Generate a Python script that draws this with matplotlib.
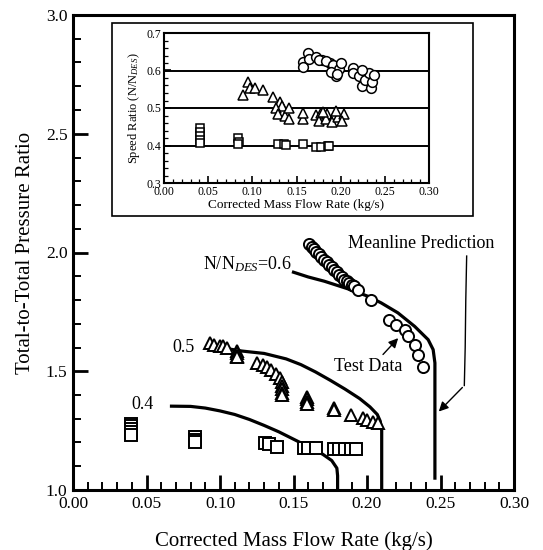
import matplotlib
matplotlib.use("Agg")
import matplotlib.pyplot as plt
from matplotlib.ticker import MultipleLocator, FormatStrFormatter
from matplotlib.patches import Rectangle

plt.rcParams['font.family'] = ['Liberation Serif', 'DejaVu Serif']
plt.rcParams['mathtext.fontset'] = 'custom'
plt.rcParams['mathtext.rm'] = 'Liberation Serif'
plt.rcParams['mathtext.it'] = 'Liberation Serif:italic'

# ---------------- main plot data ----------------
# Meanline prediction curves
line06_x = [0.150, 0.160, 0.171, 0.187, 0.2005, 0.2096, 0.221, 0.2324, 0.2416, 0.245, 0.2462, 0.2462]
line06_y = [1.917, 1.897, 1.879, 1.847, 1.816, 1.788, 1.746, 1.689, 1.633, 1.591, 1.535, 1.05]
line05_x = [0.094, 0.105, 0.115, 0.130, 0.145, 0.155, 0.165, 0.175, 0.185, 0.195, 0.202, 0.207, 0.209, 0.210, 0.210]
line05_y = [1.600, 1.595, 1.585, 1.575, 1.552, 1.528, 1.497, 1.462, 1.425, 1.385, 1.350, 1.318, 1.290, 1.250, 1.000]
line04_x = [0.067, 0.080, 0.090, 0.100, 0.110, 0.120, 0.130, 0.140, 0.150, 0.160, 0.170, 0.176, 0.1795, 0.180, 0.180]
line04_y = [1.353, 1.352, 1.345, 1.333, 1.318, 1.297, 1.272, 1.245, 1.214, 1.183, 1.150, 1.124, 1.092, 1.060, 1.000]

# Test data, N/Ndes = 0.6 (circles)
circ_x = [0.1605, 0.1625, 0.1639, 0.1656, 0.1673, 0.1690, 0.1708, 0.1725, 0.1742, 0.1759,
          0.1776, 0.1793, 0.1810, 0.1828, 0.1845, 0.1862, 0.1879, 0.1896, 0.1913, 0.1936,
          0.2027, 0.2153, 0.2199, 0.2256, 0.2279, 0.2324, 0.2347, 0.2381]
circ_y = [2.034, 2.024, 2.013, 2.003, 1.992, 1.981, 1.970, 1.960, 1.949, 1.938,
          1.928, 1.917, 1.907, 1.896, 1.886, 1.879, 1.872, 1.865, 1.858, 1.844,
          1.802, 1.717, 1.696, 1.675, 1.647, 1.612, 1.570, 1.520]

# Test data, N/Ndes = 0.5 (triangles)
tri_x = [0.0932, 0.0960, 0.1000, 0.1023, 0.1050, 0.1114, 0.1114, 0.1114, 0.1114,
         0.1251, 0.1290, 0.1320, 0.1350, 0.1380, 0.1411, 0.1420, 0.1420, 0.1420, 0.1422, 0.1422,
         0.1594, 0.1594, 0.1594, 0.1594, 0.1776, 0.1776, 0.1890, 0.1970, 0.2000, 0.2039, 0.2073]
tri_y = [1.619, 1.612, 1.608, 1.605, 1.598, 1.585, 1.575, 1.565, 1.558,
         1.535, 1.528, 1.520, 1.505, 1.490, 1.471, 1.455, 1.440, 1.425, 1.410, 1.400,
         1.392, 1.382, 1.372, 1.362, 1.345, 1.335, 1.316, 1.302, 1.295, 1.288, 1.281]

# Test data, N/Ndes = 0.4 (squares)
sq_x = [0.0395, 0.0395, 0.0395, 0.0395, 0.0395, 0.0829, 0.0829, 0.0829,
        0.1308, 0.1330, 0.1388, 0.1570, 0.1600, 0.1650, 0.1776, 0.1810, 0.1850, 0.1890, 0.1925]
sq_y = [1.280, 1.268, 1.255, 1.243, 1.232, 1.225, 1.212, 1.202,
        1.197, 1.195, 1.183, 1.178, 1.178, 1.178, 1.172, 1.172, 1.172, 1.172, 1.172]

# ---------------- inset data (speed ratio) ----------------
isq_x = [0.0406, 0.0406, 0.0406, 0.0406, 0.0406, 0.0838, 0.0845, 0.0840,
         0.1289, 0.1360, 0.1380, 0.1570, 0.1720, 0.1780, 0.1860, 0.1870]
isq_y = [0.446, 0.436, 0.426, 0.416, 0.408, 0.419, 0.410, 0.405,
         0.404, 0.404, 0.401, 0.405, 0.396, 0.396, 0.398, 0.400]
itri_x = [0.0894, 0.0950, 0.0977, 0.1030, 0.1120, 0.1230, 0.1308, 0.1340, 0.1270, 0.1290,
          0.1375, 0.1410, 0.1410, 0.1570, 0.1570, 0.1720, 0.1780, 0.1850, 0.1920,
          0.1760, 0.1830, 0.1900, 0.1970, 0.2040, 0.1800, 0.1950, 0.2010]
itri_y = [0.535, 0.570, 0.553, 0.553, 0.548, 0.530, 0.517, 0.505, 0.500, 0.485,
          0.480, 0.470, 0.500, 0.472, 0.486, 0.481, 0.488, 0.483, 0.480,
          0.465, 0.470, 0.462, 0.475, 0.485, 0.490, 0.492, 0.465]
icirc_x = [0.157, 0.157, 0.1627, 0.164, 0.172, 0.1785, 0.1877, 0.1935, 0.195,
           0.176, 0.183, 0.191, 0.198, 0.189, 0.196, 0.200, 0.2134, 0.2134, 0.221,
           0.2247, 0.228, 0.232, 0.234, 0.2247, 0.236, 0.238]
icirc_y = [0.624, 0.610, 0.646, 0.630, 0.635, 0.627, 0.620, 0.604, 0.586,
           0.629, 0.625, 0.616, 0.604, 0.595, 0.590, 0.621, 0.606, 0.593, 0.585,
           0.558, 0.576, 0.594, 0.553, 0.602, 0.570, 0.588]
inset_grid = [0.4, 0.5, 0.6]

W, H = 543, 550
fig = plt.figure(figsize=(W / 100, H / 100), dpi=100)

# ---------------- main axes ----------------
ax = fig.add_axes([73 / W, 1 - 490 / H, (514 - 73) / W, (490 - 15) / H])
ax.set_xlim(0, 0.30)
ax.set_ylim(1.0, 3.0)
for s in ax.spines.values():
    s.set_linewidth(2.2)

lw = 2.3
ax.plot(line06_x, line06_y, color='black', lw=lw, zorder=2)
ax.plot(line05_x, line05_y, color='black', lw=lw, zorder=2)
ax.plot(line04_x, line04_y, color='black', lw=lw, zorder=2)

ms = 8
mew = 1.4
ax.plot(sq_x, sq_y, 's', ms=ms, mfc='white', mec='black', mew=mew, zorder=3)
ax.plot(tri_x, tri_y, '^', ms=ms + 1, mfc='white', mec='black', mew=mew, zorder=3)
ax.plot(circ_x, circ_y, 'o', ms=ms, mfc='white', mec='black', mew=mew, zorder=3)

ax.xaxis.set_major_locator(MultipleLocator(0.05))
ax.xaxis.set_minor_locator(MultipleLocator(0.01))
ax.yaxis.set_major_locator(MultipleLocator(0.5))
ax.yaxis.set_minor_locator(MultipleLocator(0.1))
ax.xaxis.set_major_formatter(FormatStrFormatter('%.2f'))
ax.yaxis.set_major_formatter(FormatStrFormatter('%.1f'))
ax.tick_params(which='major', direction='in', length=11, width=2.0, labelsize=12.5,
               top=False, right=False, pad=4)
ax.tick_params(which='minor', direction='in', length=6, width=1.4, top=False, right=False)
ax.set_xlabel('Corrected Mass Flow Rate (kg/s)', fontsize=15, labelpad=14)
ax.set_ylabel('Total-to-Total Pressure Ratio', fontsize=15, labelpad=8)

# annotations
ax.text(0.149, 1.95, r'N/N$_{DES}$=0.6', fontsize=13, ha='right', va='center')
ax.text(0.083, 1.598, '0.5', fontsize=13, ha='right', va='center')
ax.text(0.055, 1.362, '0.4', fontsize=13, ha='right', va='center')
ax.text(0.187, 2.04, 'Meanline Prediction', fontsize=13, ha='left', va='center')
ax.text(0.1776, 1.52, 'Test Data', fontsize=13, ha='left', va='center')
ax.annotate('', xy=(0.2225, 1.648), xytext=(0.2096, 1.562),
            arrowprops=dict(arrowstyle='-|>', color='black', lw=1.0, mutation_scale=14))
ax.plot([0.2678, 0.2672, 0.2668, 0.2662], [1.985, 1.80, 1.60, 1.44], color='black', lw=1.0)
ax.annotate('', xy=(0.2475, 1.322), xytext=(0.2662, 1.44),
            arrowprops=dict(arrowstyle='-|>', color='black', lw=1.0, mutation_scale=14))

# inset frame box
fig.patches.append(Rectangle((112 / W, 1 - 216 / H), (473 - 112) / W, (216 - 23) / H,
                             transform=fig.transFigure, fill=True, facecolor='white',
                             edgecolor='black', lw=1.2, zorder=5))

# ---------------- inset axes ----------------
ai = fig.add_axes([164 / W, 1 - 183 / H, (429 - 164) / W, (183 - 33) / H], zorder=6)
ai.set_xlim(0, 0.30)
ai.set_ylim(0.3, 0.7)
for s in ai.spines.values():
    s.set_linewidth(1.5)
for g in inset_grid:
    ai.axhline(g, color='black', lw=1.4, zorder=1)
ims = 6
ai.plot(isq_x, isq_y, 's', ms=ims, mfc='white', mec='black', mew=1.1, zorder=3)
ai.plot(itri_x, itri_y, '^', ms=ims + 1, mfc='white', mec='black', mew=1.1, zorder=3)
ai.plot(icirc_x, icirc_y, 'o', ms=ims + 1, mfc='white', mec='black', mew=1.1, zorder=3)
ai.xaxis.set_major_locator(MultipleLocator(0.05))
ai.xaxis.set_minor_locator(MultipleLocator(0.01))
ai.yaxis.set_major_locator(MultipleLocator(0.1))
ai.yaxis.set_minor_locator(MultipleLocator(0.02))
ai.xaxis.set_major_formatter(FormatStrFormatter('%.2f'))
ai.yaxis.set_major_formatter(FormatStrFormatter('%.1f'))
ai.tick_params(which='major', direction='in', length=5, width=1.2, labelsize=8.5,
               top=False, right=False, pad=2)
ai.tick_params(which='minor', direction='in', length=3, width=0.9, top=False, right=False)
ai.set_xlabel('Corrected Mass Flow Rate (kg/s)', fontsize=9.5, labelpad=1)
ai.set_ylabel(r'Speed Ratio (N/N$_{DES}$)', fontsize=9, labelpad=3)

fig.savefig('out.png', dpi=100)
